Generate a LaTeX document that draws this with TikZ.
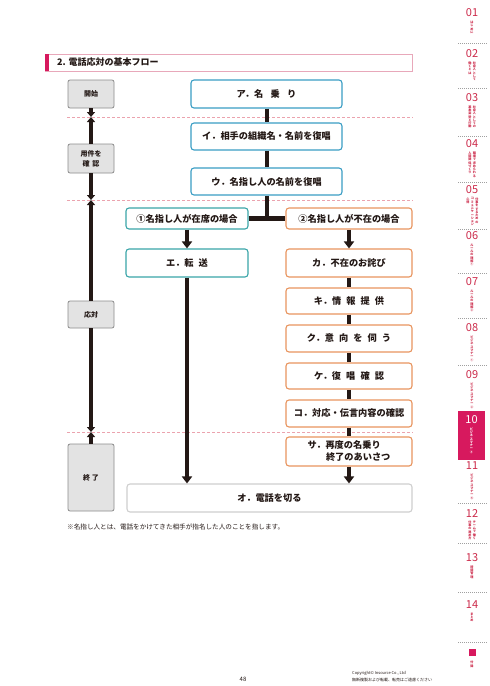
\documentclass[tikz,border=0pt]{standalone}
\usepackage{fontspec}
\setmainfont{Noto Sans CJK JP}
\usetikzlibrary{arrows.meta}
\XeTeXlinebreaklocale "ja"
\XeTeXlinebreakskip=0pt plus 1pt
\definecolor{ink}{HTML}{231815}
\definecolor{bluebd}{HTML}{3A9DC4}
\definecolor{tealbd}{HTML}{3AA5A8}
\definecolor{orabd}{HTML}{E8945E}
\definecolor{graybd}{HTML}{8C8C8C}
\definecolor{grayfill}{HTML}{E3E3E3}
\definecolor{lightbd}{HTML}{CFCFCF}
\definecolor{pinkdash}{HTML}{EBA3AE}
\definecolor{crimson}{HTML}{D7195E}
\definecolor{headbd}{HTML}{E8A8BA}
\definecolor{tabred}{HTML}{CC2A4A}
\definecolor{sepgray}{HTML}{A0A0A0}
\newcommand\gp{\hspace{0.55em}}
\begin{document}
\begin{tikzpicture}[x=1pt,y=-1pt,
  box/.style={draw, rounded corners=3pt, line width=1.1pt, fill=white, inner sep=0pt,
    font=\bfseries\fontsize{9.2}{12}\selectfont, text=ink, align=center},
  flowbox/.style={box, draw=bluebd},
  tealbox/.style={box, draw=tealbd},
  orabox/.style={box, draw=orabd},
  endbox/.style={box, draw=lightbd},
  phase/.style={draw=graybd, fill=grayfill, rounded corners=2pt, line width=0.8pt, inner sep=0pt,
    minimum width=46pt, font=\bfseries\fontsize{7}{10}\selectfont, align=center, text=ink},
  link/.style={draw=ink, line width=4pt},
  arrowlink/.style={link, -{Triangle[width=10pt,length=7pt]}},
  phasearrow/.style={draw=ink, line width=3.3pt, -{Triangle[width=8pt,length=5pt]}},
  dashline/.style={draw=pinkdash, line width=1pt, dash pattern=on 3pt off 2pt},
  num/.style={text=tabred, font=\fontsize{11}{11}\selectfont, inner sep=0pt},
  tab/.style={text=tabred, font=\bfseries\fontsize{3.1}{3.25}\selectfont, text width=3.3pt, align=center, inner sep=0pt, anchor=north},
  sep/.style={draw=sepgray, line width=0.5pt, dash pattern=on 1pt off 1pt}
]
\useasboundingbox[fill=white] (0,0) rectangle (490,686);

% heading
\draw[headbd, line width=0.8pt] (45,54) rectangle (412,71);
\fill[crimson] (45,54) rectangle (49,71);
\node[anchor=west, inner sep=0pt, font=\bfseries\fontsize{9}{10}\selectfont, text=ink] (title) at (57,62.5) {2. 電話応対の基本フロー};

% dashed phase separators
\coordinate (dl1) at (67,117); \coordinate (dr1) at (413,117);
\coordinate (dl2) at (67,200); \coordinate (dr2) at (413,200);
\coordinate (dl3) at (67,432); \coordinate (dr3) at (413,432);
\draw[dashline] (dl1) -- (dr1);
\draw[dashline] (dl2) -- (dr2);
\draw[dashline] (dl3) -- (dr3);

% phase boxes
\node[phase, minimum height=28pt] (p1) at (91,94) {開始};
\node[phase, minimum height=29pt] (p2) at (91,158.5) {用件を\\確\hspace{0.4em}認};
\node[phase, minimum height=27pt] (p3) at (91,314.5) {応対};
\node[phase, minimum height=67pt] (p4) at (91,477.5) {終 了};
\coordinate (q1) at (91,117);
\coordinate (q2) at (91,200);
\coordinate (q3) at (91,432);
\draw[phasearrow] (p1.south) -- (q1);
\draw[phasearrow] (p2.north) -- (q1);
\draw[phasearrow] (p2.south) -- (q2);
\draw[phasearrow] (p3.north) -- (q2);
\draw[phasearrow] (p3.south) -- (q3);
\draw[phasearrow] (p4.north) -- (q3);

% flow boxes
\node[flowbox, minimum width=151pt, minimum height=28pt] (a) at (266.5,94) {ア．名\hspace{0.8em}乗\hspace{0.8em}り};
\node[flowbox, minimum width=151pt, minimum height=27pt] (i) at (266.5,136.5) {イ．相手の組織名・名前を復唱};
\node[flowbox, minimum width=151pt, minimum height=27pt] (u) at (266.5,181.5) {ウ．名指し人の名前を復唱};
\node[tealbox, minimum width=122pt, minimum height=21pt] (c1) at (187,218.5) {①名指し人が在席の場合};
\node[orabox, minimum width=126pt, minimum height=21pt] (c2) at (349,218.5) {②名指し人が不在の場合};
\node[tealbox, minimum width=122pt, minimum height=28pt] (e) at (187,263) {エ．転\gp 送};
\node[orabox, minimum width=126pt, minimum height=28pt] (ka) at (349,263) {カ．不在のお詫び};
\node[orabox, minimum width=126pt, minimum height=26pt] (ki) at (349,301) {キ．情\gp 報\gp 提\gp 供};
\node[orabox, minimum width=126pt, minimum height=27pt] (ku) at (349,338.5) {ク．意\gp 向\gp を\gp 伺\gp う};
\node[orabox, minimum width=126pt, minimum height=26pt] (ke) at (349,376) {ケ．復\gp 唱\gp 確\gp 認};
\node[orabox, minimum width=126pt, minimum height=27pt] (ko) at (349,413.5) {コ．対応・伝言内容の確認};
\node[orabox, minimum width=126pt, minimum height=29pt, align=left] (sa) at (349,451.5) {サ．再度の名乗り\\\hspace{2em}終了のあいさつ};
\node[endbox, minimum width=285pt, minimum height=28pt] (o) at (269.5,498) {オ．電話を切る};

% connectors
\coordinate (br) at (266.5,218.5);
\draw[link] (a) -- (i);
\draw[link] (i) -- (u);
\draw[link] (u.south) -- (br);
\draw[draw=ink, line width=5.5pt] (c1.east) -- (c2.west);
\draw[arrowlink] (c1) -- (e);
\draw[arrowlink] (c2) -- (ka);
\draw[link] (ka) -- (ki);
\draw[link] (ki) -- (ku);
\draw[link] (ku) -- (ke);
\draw[link] (ke) -- (ko);
\draw[link] (ko) -- (sa);
\draw[arrowlink] (e.south) -- (e.south |- o.north);
\draw[arrowlink] (sa.south) -- (sa.south |- o.north);

% footnote
\node[anchor=west, inner sep=0pt, font=\fontsize{6.6}{8}\selectfont, text=ink] (note) at (67,527) {※名指し人とは、電話をかけてきた相手が指名した人のことを指します。};

% sidebar
\foreach \y in {43,88,136,182,229,273,318,365,503,543,592,642} \draw[sep] (458,\y) -- (488,\y);
\fill[crimson] (458,411) rectangle (485,460);
\node[num] (n01) at (472,13) {01};
\node[tab] (t01) at (472,21) {はじめに};
\node[num] (n02) at (472,54) {02};
\node[tab] (t02a) at (474.5,61.5) {社会人として};
\node[tab] (t02b) at (470,61.5) {働くとは};
\node[num] (n03) at (472,98) {03};
\node[tab] (t03a) at (474.5,105.5) {社会人としての};
\node[tab] (t03b) at (470,105.5) {基本姿勢と行動};
\node[num] (n04) at (472,144) {04};
\node[tab] (t04a) at (474.5,151.5) {職場で求められる};
\node[tab] (t04b) at (470,151.5) {人間関係づくり};
\node[num] (n05) at (472,190) {05};
\node[tab] (t05a) at (477,197.5) {仕事をするための};
\node[tab] (t05b) at (472.5,197.5) {コミュニケーション};
\node[tab] (t05c) at (468,197.5) {心得};
\node[num] (n06) at (472,236) {06};
\node[tab] (t06) at (472,243.5) {ルールの理解①};
\node[num] (n07) at (472,282) {07};
\node[tab] (t07) at (472,289.5) {ルールの理解②};
\node[num] (n08) at (472,328) {08};
\node[tab] (t08) at (472,335.5) {ビジネスマナー①};
\node[num] (n09) at (472,375) {09};
\node[tab] (t09) at (472,382.5) {ビジネスマナー②};
\node[num, text=white] (n10) at (471.5,420) {10};
\node[tab, text=white] (t10) at (471.5,427.5) {ビジネスマナー③};
\node[num] (n11) at (472,466) {11};
\node[tab] (t11) at (472,473.5) {ビジネスマナー④};
\node[num] (n12) at (472,513) {12};
\node[tab] (t12a) at (474.5,520.5) {チームで働く};
\node[tab] (t12b) at (470,520.5) {仕事の進め方};
\node[num] (n13) at (472,558) {13};
\node[tab] (t13) at (472,565.5) {時間管理};
\node[num] (n14) at (472,605) {14};
\node[tab] (t14) at (472,612.5) {まとめ};
\fill[crimson] (468.5,649) rectangle (475.5,656);
\node[tab] (t15) at (472,661) {付録};

% footer
\node[inner sep=0pt, font=\fontsize{6}{7}\selectfont, text=ink] (page) at (243,679) {48};
\node[anchor=west, inner sep=0pt, font=\fontsize{4}{5}\selectfont, text=ink] (copy1) at (352,673) {Copyright© Insource Co., Ltd};
\node[anchor=west, inner sep=0pt, font=\fontsize{4}{5}\selectfont, text=ink] (copy2) at (352,680) {無断複製および転載、転売はご遠慮ください};
\end{tikzpicture}
\end{document}
